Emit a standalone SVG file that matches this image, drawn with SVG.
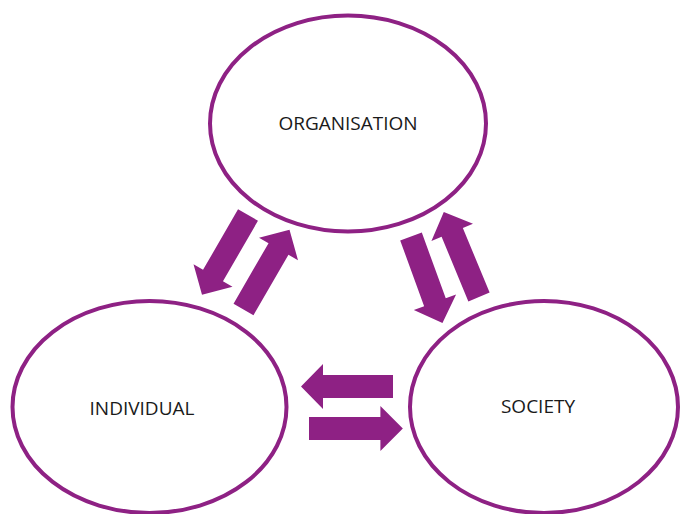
<svg xmlns="http://www.w3.org/2000/svg" xmlns:xlink="http://www.w3.org/1999/xlink" width="680" height="514" viewBox="0 0 680 514">
  <style>
    .node ellipse { fill: #ffffff; stroke: #8E2184; stroke-width: 4; }
    .node text { font-family: "Open Sans", "Noto Sans", sans-serif; font-size: 19px; fill: #1a1a1a; text-anchor: middle; dominant-baseline: central; }
    .arrow { fill: #8E2184; }
  </style>
  <defs>
    <path id="arr" d="M0,-11.5 H70 V-22.5 L92,0 L70,22.5 V11.5 H0 Z"/>
  </defs>
  <rect width="680" height="514" fill="#ffffff"/>
  <g id="organisation" class="node">
    <ellipse cx="348" cy="123.5" rx="138" ry="108"/>
    <text x="348" y="123">ORGANISATION</text>
  </g>
  <g id="individual" class="node">
    <ellipse cx="149.5" cy="407" rx="137" ry="106"/>
    <text x="142" y="408">INDIVIDUAL</text>
  </g>
  <g id="society" class="node">
    <ellipse cx="544" cy="407" rx="134" ry="106"/>
    <text x="538" y="406">SOCIETY</text>
  </g>
  <g id="connectors" class="arrow">
    <use xlink:href="#arr" transform="translate(248,215) rotate(120)"/>
    <use xlink:href="#arr" transform="translate(243.5,309.5) rotate(-60)"/>
    <use xlink:href="#arr" transform="translate(411,236.5) rotate(70)"/>
    <use xlink:href="#arr" transform="translate(479,297) rotate(-112.5)"/>
    <use xlink:href="#arr" transform="translate(393,386.5) rotate(180)"/>
    <use xlink:href="#arr" transform="translate(309,428.5) scale(1.02,1)"/>
  </g>
</svg>
